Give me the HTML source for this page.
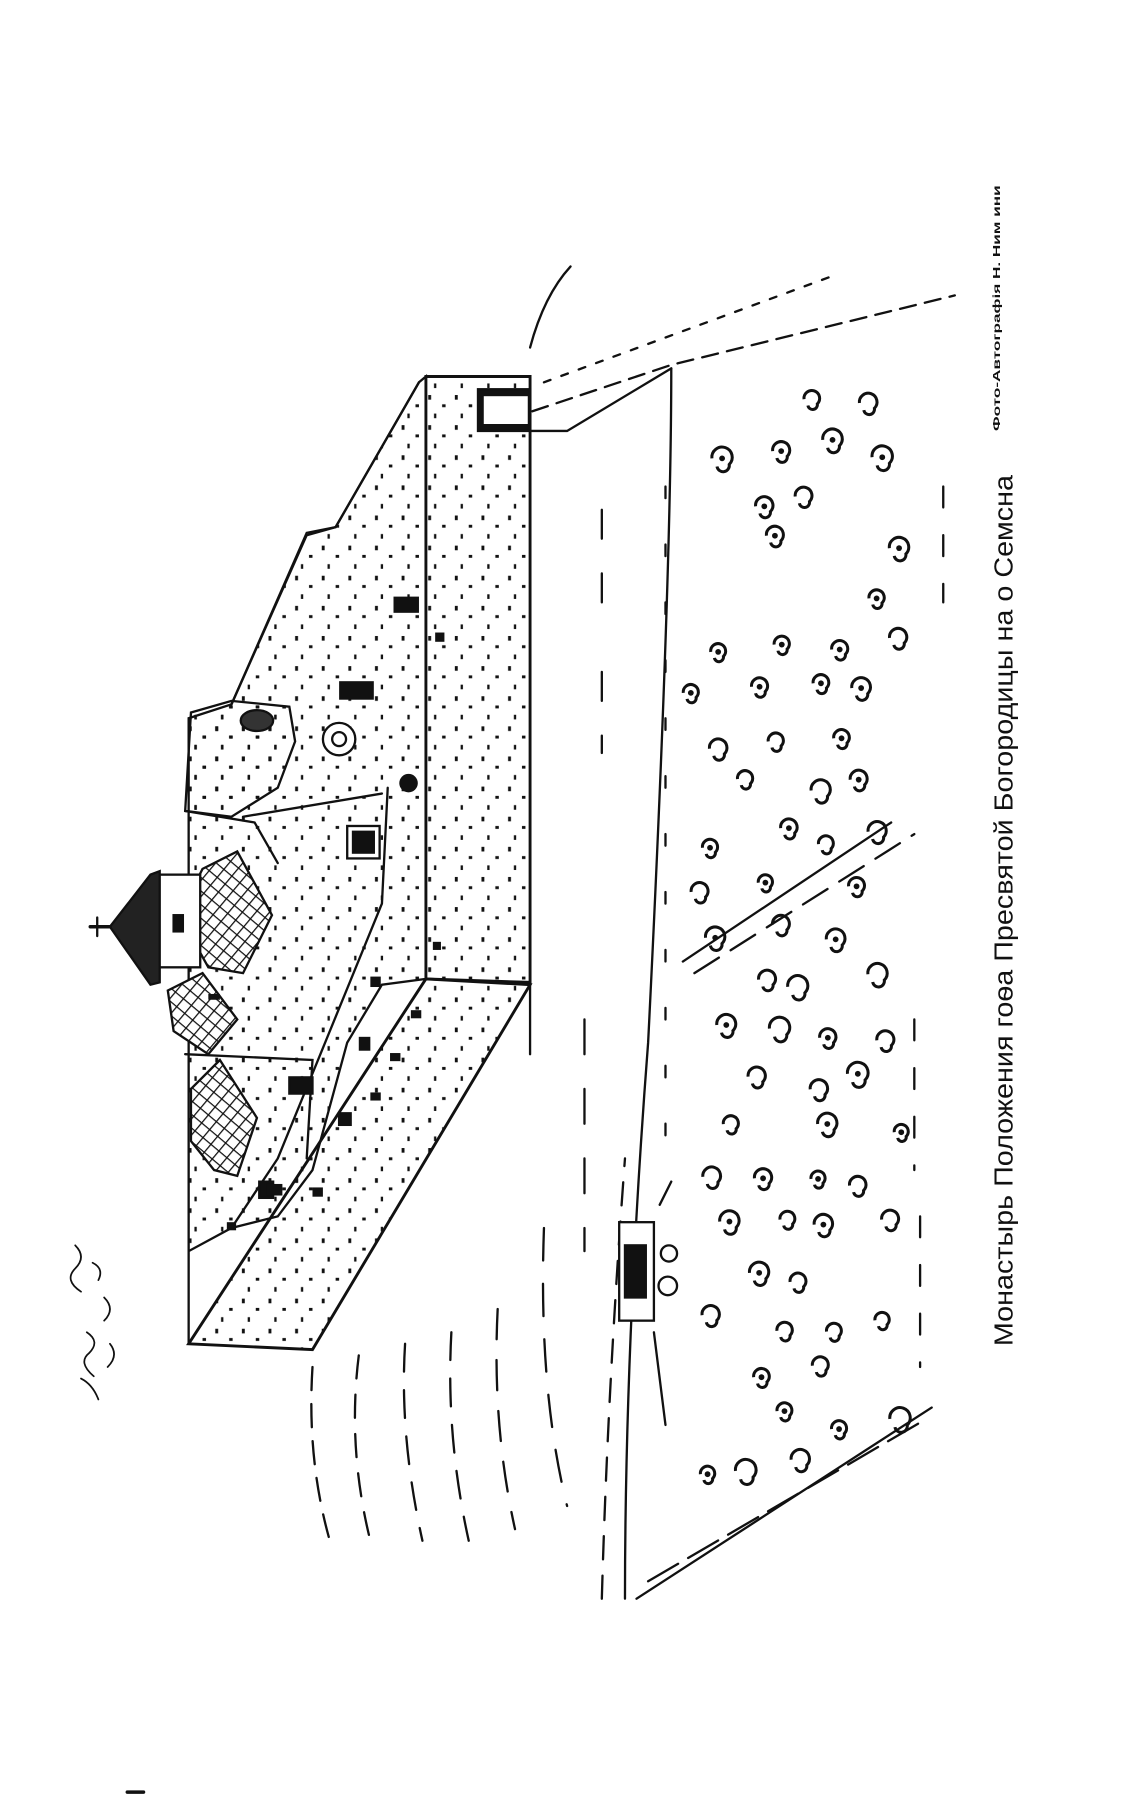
<!DOCTYPE html>
<html><head><meta charset="utf-8"><style>
html,body{margin:0;padding:0;background:#fff;width:1140px;height:1813px;overflow:hidden}
svg{display:block}
</style></head><body>
<svg id="s" width="1140" height="1813" viewBox="0 0 985 1565" preserveAspectRatio="none" xmlns="http://www.w3.org/2000/svg">
<defs>
<pattern id="dots" width="23" height="26" patternUnits="userSpaceOnUse">
<rect x="2" y="3" width="2.5" height="4" fill="#111"/>
<rect x="14" y="11" width="3" height="2.5" fill="#111"/>
<rect x="7" y="19" width="2" height="4" fill="#111"/>
</pattern>
<pattern id="tiles" width="9" height="9" patternUnits="userSpaceOnUse" patternTransform="rotate(40)">
<rect width="9" height="9" fill="#fff"/>
<path d="M0 0H9M0 0V9" stroke="#111" stroke-width="2.2"/>
</pattern>
</defs>
<g fill="none" stroke="#111" stroke-width="2" stroke-linecap="round">
<polygon points="362,330 368,325 368,845 330,850 300,900 270,1010 240,1050 200,1060 163,1080 163,1160 163,620 200,608 265,460 290,455" fill="url(#dots)"/>
<polygon points="165,615 200,605 250,610 255,640 240,680 200,705 160,700" fill="url(#dots)"/>
<polygon points="368,325 458,325 458,848 368,845" fill="url(#dots)" stroke-width="2.5"/>
<rect x="413" y="336" width="45" height="36" fill="#111"/>
<rect x="418" y="342" width="38" height="24" fill="#fff" stroke="none"/>
<polygon points="368,845 458,850 270,1165 163,1160" fill="url(#dots)" stroke-width="2.5"/>
<line x1="458" y1="850" x2="458" y2="910"/>
<path d="M335,680 L330,780 L240,1000 L200,1060"/>
<path d="M210,705 L330,685"/>
<path d="M160,700 L220,710 L240,745"/>
<path d="M160,910 L270,915 L265,1000"/>
<polygon points="175,750 205,735 235,790 210,840 180,835 155,790" fill="url(#tiles)"/>
<polygon points="145,855 175,840 205,880 180,910 150,890" fill="url(#tiles)"/>
<polygon points="165,940 190,915 222,965 205,1015 185,1010 165,985" fill="url(#tiles)"/>
<rect x="135" y="755" width="38" height="80" fill="#fff"/>
<polygon points="95,800 130,755 138,752 138,848 130,850" fill="#222"/>
<line x1="78" y1="800" x2="95" y2="800" stroke-width="3"/>
<line x1="84" y1="792" x2="84" y2="808" stroke-width="2"/>
<rect x="150" y="790" width="8" height="14" fill="#111"/>
<rect x="300" y="713" width="28" height="28" fill="#fff"/>
<rect x="305" y="718" width="18" height="18" fill="#111"/>
<rect x="250" y="930" width="20" height="14" fill="#111"/>
<rect x="224" y="1020" width="12" height="14" fill="#111"/>
<circle cx="293" cy="638" r="14" fill="#fff"/>
<circle cx="293" cy="638" r="6"/>
<ellipse cx="222" cy="622" rx="14" ry="9" fill="#333"/>
<g fill="#111" stroke="none">
<rect x="340" y="515" width="22" height="14"/><rect x="293" y="588" width="30" height="16"/>
<circle cx="353" cy="676" r="8"/><rect x="376" y="546" width="8" height="8"/>
<rect x="374" y="813" width="7" height="7"/><rect x="320" y="843" width="9" height="9"/>
<rect x="355" y="872" width="9" height="7"/><rect x="337" y="909" width="9" height="7"/>
<rect x="320" y="943" width="9" height="7"/><rect x="292" y="960" width="12" height="12"/>
<rect x="270" y="1025" width="9" height="8"/><rect x="310" y="895" width="10" height="12"/>
<rect x="196" y="1055" width="8" height="7"/><rect x="180" y="858" width="10" height="5"/>
<rect x="230" y="1022" width="14" height="10"/>
</g>
<path d="M362,330 L290,455 L265,462 L200,608"/>
<path d="M458,300 Q470,255 493,230"/>
<path d="M458,372 L490,372 L580,318" />
<path d="M460,355 L580,315 L825,255" stroke-dasharray="14,8"/>
<path d="M470,330 L720,238" stroke-dasharray="6,10"/>
<path d="M540,1380 Q540,1160 560,900 Q580,500 580,318"/>
<path d="M520,1380 Q525,1200 540,1000" stroke-dasharray="20,14"/>
<path d="M550,1380 L805,1215"/>
<path d="M560,1365 L800,1225" stroke-dasharray="30,10"/>
<path d="M590,830 L770,710"/>
<path d="M600,840 L790,720" stroke-dasharray="25,12"/>
<path d="M520,440 L520,520 M520,580 L520,650" stroke-dasharray="25,30"/>
<path d="M790,880 L790,1010 M795,1050 L795,1180 M815,420 L815,520" stroke-dasharray="18,24"/>
<path d="M575,420 L575,1000" stroke-dasharray="10,40"/>
<path d="M270,1180 Q265,1260 285,1330" stroke-dasharray="20,12"/>
<path d="M310,1170 Q300,1250 320,1330" stroke-dasharray="20,14"/>
<path d="M350,1160 Q345,1240 365,1330" stroke-dasharray="24,16"/>
<path d="M390,1150 Q385,1240 405,1330" stroke-dasharray="24,16"/>
<path d="M430,1130 Q425,1230 445,1320" stroke-dasharray="26,18"/>
<path d="M470,1060 Q465,1200 490,1300" stroke-dasharray="28,20"/>
<path d="M505,880 L505,1080" stroke-dasharray="30,30"/>
<rect x="535" y="1055" width="30" height="85" fill="#fff"/>
<rect x="540" y="1075" width="18" height="45" fill="#111"/>
<circle cx="577" cy="1110" r="8" fill="#fff"/><circle cx="578" cy="1082" r="7" fill="#fff"/>
<path d="M565,1150 L575,1230 M570,1040 L580,1020"/>
<line x1="110" y1="1547" x2="124" y2="1547" stroke-width="3"/>
<path d="M65,1075 q10,10 0,20 q-10,10 5,20 M80,1090 q10,5 5,15 M90,1120 q10,10 0,20 M75,1150 q12,8 2,18 q-10,8 4,20 M95,1160 q8,10 -2,20 M70,1190 q10,5 15,18" stroke-width="1.5"/>
</g>
<g id="trees" fill="none" stroke="#111" stroke-width="2.6"></g>
<text transform="translate(875,1162) rotate(-90)" font-family="'Liberation Sans','DejaVu Sans',sans-serif" font-size="22" textLength="752" lengthAdjust="spacingAndGlyphs" fill="#111">Монастырь Положения гоѳа Пресвятой Богородицы на о Семсна</text>
<text transform="translate(864,372) rotate(-90)" font-family="'Liberation Sans',sans-serif" font-weight="bold" font-size="9" textLength="212" lengthAdjust="spacingAndGlyphs" fill="#111">Фото-Автографія Н. Ним ини</text>
</svg>
<script>
var g=document.getElementById('trees');var h='';var s=777;function r(){s=(s*16807)%2147483647;return s/2147483647;}
for(var y=345;y<1300;y+=42){for(var k=0;k<4;k++){var x=600+k*48+(r()-0.5)*22+((y/42)%2)*20;var yy=y+(r()-0.5)*18;
var lim=1380-(x-550)*0.65;if(yy>lim||x>790)continue;if(r()<0.2)continue;
var rr=6+r()*3;
h+='<path d="M'+(x-rr)+','+yy+' a'+rr+','+rr+' 0 1,1 '+(rr*1.7)+','+(rr*0.6)+' a'+(rr*0.6)+','+(rr*0.6)+' 0 1,1 -'+(rr*1.2)+','+(rr*0.2)+'"/>';
if(r()<0.5)h+='<circle cx="'+x+'" cy="'+yy+'" r="2.5" fill="#111" stroke="none"/>';}}
g.innerHTML=h;
</script>
</body></html>
